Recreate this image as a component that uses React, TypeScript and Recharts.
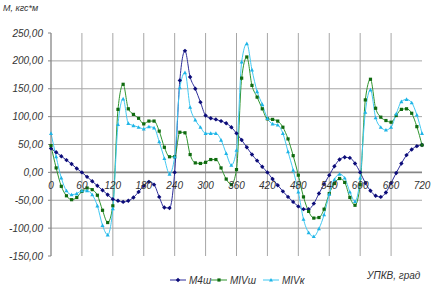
import React from 'react';
import { LineChart, Line, XAxis, YAxis, ReferenceLine } from 'recharts';

// crank angle, degrees
const angles = [
  0, 10, 20, 30, 40, 50, 60, 70, 80, 90, 100, 110, 120, 130, 140, 150, 160, 170, 180,
  190, 200, 210, 220, 230, 240, 250, 260, 270, 280, 290, 300, 310, 320, 330, 340, 350, 360,
  370, 380, 390, 400, 410, 420, 430, 440, 450, 460, 470, 480, 490, 500, 510, 520, 530, 540,
  550, 560, 570, 580, 590, 600, 610, 620, 630, 640, 650, 660, 670, 680, 690, 700, 710, 720,
];

// M4ш
const m4sh = [
  43, 36, 29, 22, 15, 7, 0, -8, -16, -24, -32, -40, -48, -51, -53, -51, -45, -35, -24,
  -17, -22, -44, -63, -64, 0, 165, 218, 171, 150, 126, 102, 97, 95, 92, 88, 81, 70,
  58, 45, 32, 21, 10, 0, -12, -23, -34, -44, -53, -61, -66, -66, -56, -38, -21, -5,
  11, 23, 27, 26, 16, 0, -19, -33, -42, -44, -36, -19, -1, 16, 31, 41, 47, 49,
];

// MIVш
const mivSh = [
  48, 8, -25, -42, -49, -45, -34, -28, -31, -41, -68, -90, -60, 113, 158, 114, 104, 97, 87,
  92, 92, 74, 45, 28, 28, 72, 71, 32, 17, 16, 18, 23, 23, 8, -12, -22, 5,
  169, 207, 156, 135, 114, 96, 95, 92, 81, 60, 30, -5, -44, -70, -82, -81, -66, -38,
  -20, -11, -18, -45, -59, -22, 130, 167, 115, 99, 93, 90, 102, 113, 114, 106, 82, 49,
];

// MIVк
const mivK = [
  70, 28, -10, -33, -40, -38, -33, -33, -40, -60, -95, -112, -65, 86, 132, 88, 84, 81, 78,
  82, 80, 55, 25, -3, 28, 152, 179, 117, 94, 81, 70, 70, 70, 58, 34, 13, 40,
  198, 231, 184, 145, 122, 97, 87, 85, 70, 37, 4, -35, -84, -108, -115, -101, -76, -39,
  -13, -3, -10, -35, -52, -10, 108, 148, 98, 81, 76, 81, 105, 127, 131, 125, 103, 70,
];

const xTicks = [0, 60, 120, 180, 240, 300, 360, 420, 480, 540, 600, 660, 720];
const yTicks = [-150, -100, -50, 0, 50, 100, 150, 200, 250];
const hGrid = [-100, -50, 50, 100, 150, 200];
const vGrid = [60, 120, 180, 240, 300, 360, 420, 480, 540, 600, 660];

const W = 432;
const H = 290;
const margin = { top: 33, right: 10, bottom: 33, left: 0 };
const Y_MIN = -150;
const Y_MAX = 250;
const plotH = H - margin.top - margin.bottom - 1;
const zeroY = margin.top + (plotH * Y_MAX) / (Y_MAX - Y_MIN);

const NAVY = '#2d2d9a';
const NAVY_DOT = '#0c0c78';
const GREEN = '#2e952e';
const GREEN_DOT = '#0f6a0f';
const CYAN = '#3fc8f2';
const CYAN_DOT = '#1eb4e6';
const TEXT = '#333333';
const FONT = '"Liberation Sans", Arial, sans-serif';

const data = angles.map((a, i) => ({ angle: a, m4sh: m4sh[i], mivSh: mivSh[i], mivK: mivK[i] }));

const fmt = (v: number) => v.toFixed(2).replace('.', ',');

const diamond = (cx: number, cy: number, r: number) =>
  `M${cx},${cy - r}L${cx + r},${cy}L${cx},${cy + r}L${cx - r},${cy}Z`;
const triangle = (cx: number, cy: number, r: number) =>
  `M${cx},${cy - r}L${cx + r},${cy + r * 0.8}L${cx - r},${cy + r * 0.8}Z`;

const NavyDot = (p: any) => <path key={`n${p.index}`} d={diamond(p.cx, p.cy, 2.2)} fill={NAVY_DOT} />;
const GreenDot = (p: any) => (
  <rect key={`g${p.index}`} x={p.cx - 1.6} y={p.cy - 1.6} width={3.2} height={3.2} fill={GREEN_DOT} />
);
const CyanDot = (p: any) => <path key={`c${p.index}`} d={triangle(p.cx, p.cy, 2)} fill={CYAN_DOT} />;

// x labels sit under the zero line, not at the bottom of the plot
const XTick = (p: any) => (
  <text x={p.x} y={zeroY + 17} textAnchor="middle" fill={TEXT} fontSize={10} fontStyle="italic" fontFamily={FONT}>
    {p.payload.value}
  </text>
);

const legendItems = [
  { name: 'M4ш', x: 170, color: NAVY, dot: (cx: number, cy: number) => <path d={diamond(cx, cy, 2.2)} fill={NAVY_DOT} /> },
  {
    name: 'MIVш',
    x: 211,
    color: GREEN,
    dot: (cx: number, cy: number) => <rect x={cx - 1.6} y={cy - 1.6} width={3.2} height={3.2} fill={GREEN_DOT} />,
  },
  { name: 'MIVк', x: 263, color: CYAN, dot: (cx: number, cy: number) => <path d={triangle(cx, cy, 2)} fill={CYAN_DOT} /> },
];

export default function App() {
  return (
    <div style={{ position: 'absolute', left: 0, top: 0, width: W, height: H, background: '#fff', fontFamily: FONT }}>
      <LineChart width={W} height={H} data={data} margin={margin}>
        {hGrid.map((v) => (
          <ReferenceLine key={`h${v}`} y={v} stroke="#a6a6a6" strokeWidth={1} />
        ))}
        {vGrid.map((v) => (
          <ReferenceLine key={`v${v}`} x={v} stroke="#a6a6a6" strokeWidth={1} />
        ))}
        <ReferenceLine y={0} stroke="#868686" strokeWidth={1.6} />
        <XAxis
          type="number"
          dataKey="angle"
          domain={[0, 720]}
          ticks={xTicks}
          interval={0}
          height={1}
          axisLine={false}
          tickLine={false}
          tick={<XTick />}
        />
        <YAxis
          type="number"
          domain={[Y_MIN, Y_MAX]}
          ticks={yTicks}
          interval={0}
          width={51}
          tickSize={3}
          tickMargin={5}
          axisLine={{ stroke: '#868686', strokeWidth: 1.3 }}
          tickLine={{ stroke: '#868686' }}
          tickFormatter={fmt}
          tick={{ fill: TEXT, fontSize: 10, fontStyle: 'italic', fontFamily: FONT }}
        />
        <Line type="monotone" dataKey="m4sh" stroke={NAVY} strokeWidth={1} dot={NavyDot} isAnimationActive={false} />
        <Line type="monotone" dataKey="mivSh" stroke={GREEN} strokeWidth={1} dot={GreenDot} isAnimationActive={false} />
        <Line type="monotone" dataKey="mivK" stroke={CYAN} strokeWidth={1} dot={CyanDot} isAnimationActive={false} />
      </LineChart>

      <div style={{ position: 'absolute', left: 3, top: 3, fontSize: 9, fontStyle: 'italic', color: TEXT }}>M, кгс*м</div>
      <div style={{ position: 'absolute', left: 367, top: 270, fontSize: 10, fontStyle: 'italic', color: TEXT }}>
        УПКВ, град
      </div>

      <svg style={{ position: 'absolute', left: 0, top: 0 }} width={W} height={H}>
        {legendItems.map((it) => (
          <g key={it.name}>
            <line x1={it.x} y1={280} x2={it.x + 16} y2={280} stroke={it.color} strokeWidth={1} />
            {it.dot(it.x + 8, 280)}
            <text x={it.x + 19} y={283.5} fontSize={10} fontStyle="italic" fill={TEXT} fontFamily={FONT}>
              {it.name}
            </text>
          </g>
        ))}
      </svg>
    </div>
  );
}
